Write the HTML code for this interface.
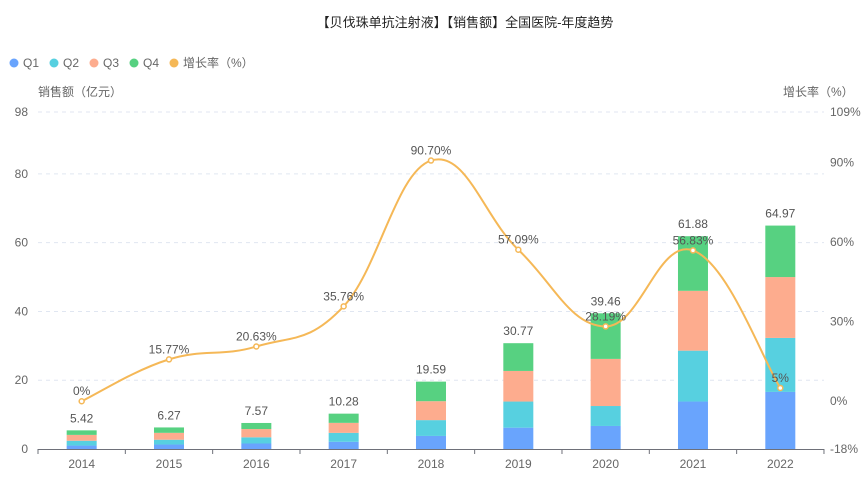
<!DOCTYPE html>
<html><head><meta charset="utf-8"><style>
body{margin:0;background:#fff;}
svg text{font-family:"Liberation Sans","Noto Sans CJK SC",sans-serif;}
</style></head><body>
<svg id="c" width="866" height="475" xmlns="http://www.w3.org/2000/svg">
<text x="465" y="27" text-anchor="middle" font-size="13" fill="#222">【贝伐珠单抗注射液】【销售额】全国医院-年度趋势</text>
<g font-size="12" fill="#666">
<circle cx="14" cy="63" r="4.5" fill="#69a4fd"/><text x="23" y="67">Q1</text>
<circle cx="54" cy="63" r="4.5" fill="#57d0e0"/><text x="63" y="67">Q2</text>
<circle cx="94" cy="63" r="4.5" fill="#fdac8e"/><text x="103" y="67">Q3</text>
<circle cx="134" cy="63" r="4.5" fill="#57d181"/><text x="143" y="67">Q4</text>
<circle cx="174" cy="63" r="4.5" fill="#f5b857"/><text x="183" y="67">增长率（%）</text>
<text x="38" y="96">销售额（亿元）</text>
<text x="783" y="96">增长率（%）</text>
</g>
<g id="g"></g>
</svg>
<script>
const g=document.getElementById('g');let s='';
const y0=449,k=337/98,yv=v=>y0-v*k,yp=p=>112+(109-p)*337/127;
[20,40,60,80,98].forEach(v=>{s+=`<line x1="38" x2="824" y1="${yv(v)}" y2="${yv(v)}" stroke="#e0e6f1" stroke-dasharray="4,4"/>`});
[0,20,40,60,80,98].forEach(v=>{s+=`<text x="28" y="${yv(v)+4}" text-anchor="end" font-size="12" fill="#666">${v}</text>`});
[[109,'109%'],[90,'90%'],[60,'60%'],[30,'30%'],[0,'0%'],[-18,'-18%']].forEach(a=>{s+=`<text x="830" y="${yp(a[0])+4}" font-size="12" fill="#666">${a[1]}</text>`});
s+=`<line x1="38" x2="824" y1="449.5" y2="449.5" stroke="#6e7079"/>`;
for(let i=0;i<=9;i++){const x=38+i*87.33;s+=`<line x1="${x}" x2="${x}" y1="449" y2="454" stroke="#6e7079"/>`;}
const yrs=[2014,2015,2016,2017,2018,2019,2020,2021,2022];
const d=[[1.0,2.4,4.1,5.42],[1.3,2.7,4.7,6.27],[1.6,3.4,5.8,7.57],[2.1,4.7,7.6,10.28],[3.8,8.4,13.9,19.59],[6.2,13.8,22.7,30.77],[6.7,12.5,26.2,39.46],[13.8,28.6,46,61.88],[16.6,32.3,50,64.97]];
const cols=['#69a4fd','#57d0e0','#fdac8e','#57d181'];
const gr=[0,15.77,20.63,35.76,90.7,57.09,28.19,56.83,5];
const gl=['0%','15.77%','20.63%','35.76%','90.70%','57.09%','28.19%','56.83%','5%'];
const pts=[];
yrs.forEach((yr,i)=>{const cx=38+43.67+i*87.33;let prev=0;
 d[i].forEach((v,j)=>{s+=`<rect x="${cx-15}" y="${yv(v)}" width="30" height="${yv(prev)-yv(v)}" fill="${cols[j]}"/>`;prev=v;});
 s+=`<text x="${cx}" y="${yv(d[i][3])-8}" text-anchor="middle" font-size="12" fill="#555">${d[i][3]}</text>`;
 s+=`<text x="${cx}" y="468" text-anchor="middle" font-size="12" fill="#666">${yr}</text>`;
 pts.push([cx,yp(gr[i])]);});
let p=`M${pts[0][0]},${pts[0][1]}`;
for(let i=0;i<pts.length-1;i++){const a=pts[Math.max(i-1,0)],b=pts[i],c=pts[i+1],e=pts[Math.min(i+2,pts.length-1)];const t=1/5;
 p+=` C${b[0]+(c[0]-a[0])*t},${b[1]+(c[1]-a[1])*t} ${c[0]-(e[0]-b[0])*t},${c[1]-(e[1]-b[1])*t} ${c[0]},${c[1]}`;}
s+=`<path d="${p}" fill="none" stroke="#f5b857" stroke-width="2"/>`;
pts.forEach((q,i)=>{s+=`<circle cx="${q[0]}" cy="${q[1]}" r="2.5" fill="#fff" stroke="#f5b857" stroke-width="1.5"/>`;
 s+=`<text x="${q[0]}" y="${q[1]-6}" text-anchor="middle" font-size="12" fill="#555">${gl[i]}</text>`;});
g.innerHTML=s;
</script>
</body></html>
